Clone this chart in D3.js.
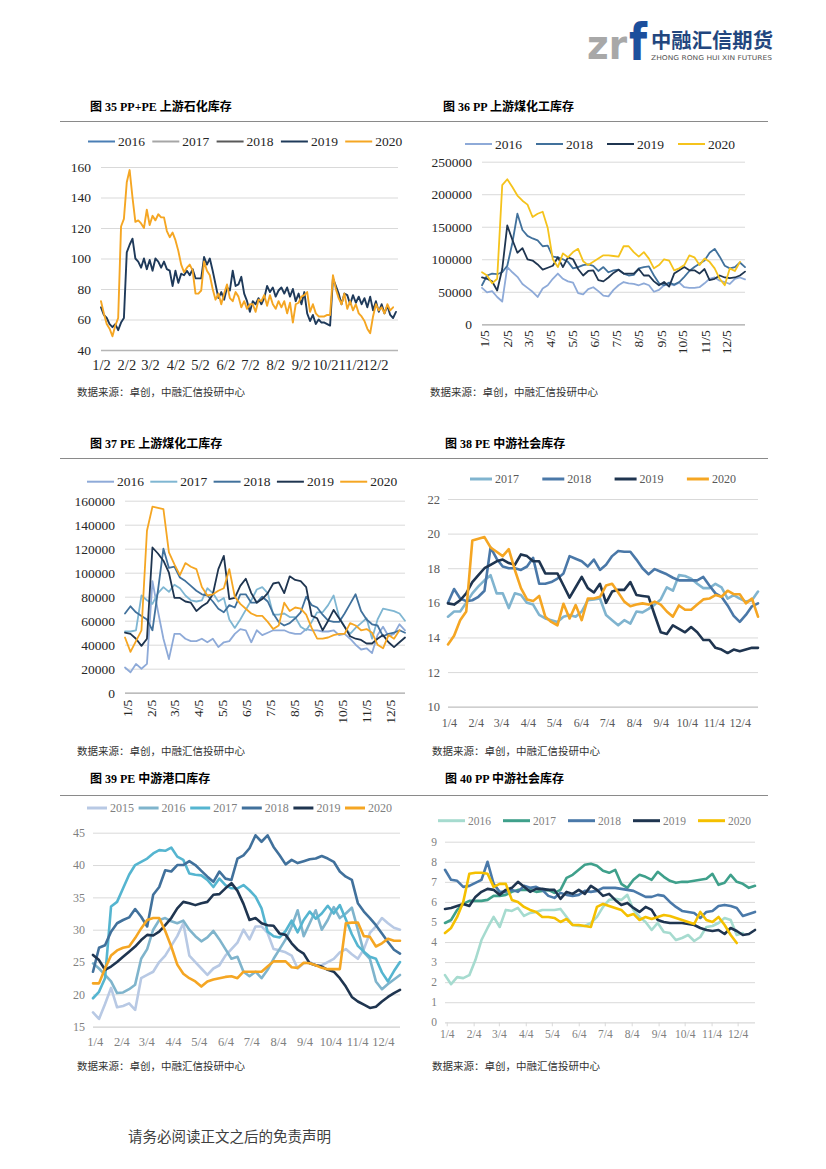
<!DOCTYPE html>
<html><head><meta charset="utf-8">
<script src="https://cdn.jsdelivr.net/npm/d3@7"></script>
<style>body{margin:0;background:#fff}svg{display:block}</style>
</head><body>
<svg id="page" width="826" height="1169"></svg>
<script>
// ---------- data ----------
// fig 35: PP+PE upstream petrochem inventory, half-week samples from 1/2
const c35Years = ["2016", "2017", "2018", "2019", "2020"];
const c35_2019 = [68,63,61,57,55,57,53,58,61,104,109,113,100,98,94,100,93,99,92,100,98,94,98,93,92,82,92,84,90,89,92,89,93,87,87,87,101,96,100,92,83,74,78,73,81,79,92,82,83,88,77,72,65,72,70,74,70,74,82,78,81,75,79,81,77,81,75,80,72,77,70,78,64,59,63,57,60,58,58,57,56,87,82,77,70,77,76,70,76,71,75,70,74,68,75,66,72,65,70,64,69,63,61,65];
const c35_2020 = [72,64,57,54,49,56,61,121,126,150,158,140,124,125,123,120,132,122,128,125,129,127,127,118,114,117,112,105,96,91,94,96,92,77,77,79,98,92,89,80,73,77,70,77,83,74,72,78,75,68,72,67,70,70,65,73,72,76,69,76,70,67,72,68,72,64,71,58,70,71,75,76,78,65,70,64,62,62,62,63,63,89,80,74,70,77,67,72,66,70,64,62,59,54,51,62,70,66,68,64,70,66,68];
const c35Ticks = ["1/2","2/2","3/2","4/2","5/2","6/2","7/2","8/2","9/2","10/2","11/2","12/2"];

// fig 36: PP upstream coal-chemical inventory (tonnes, weekly)
const c36Years = ["2016", "2018", "2019", "2020"];
const c36_2016 = [56,49,51,42,35,88,80,73,62,56,50,42,55,60,70,78,70,66,64,48,46,54,57,51,44,43,53,60,65,63,62,60,63,60,50,53,60,62,60,64,57,56,56,57,63,70,72,67,65,62,70,72,69].map(v => v * 1000);
const c36_2018 = [60,75,78,77,80,90,125,170,145,136,132,129,120,121,104,103,100,96,86,88,91,92,90,82,88,80,83,84,78,75,76,86,88,89,75,63,60,64,61,65,73,82,88,93,98,110,116,104,90,86,88,95,88].map(v => v * 1000);
const c36_2019 = [72,70,66,52,85,152,130,110,117,100,98,92,84,87,90,103,88,103,100,85,75,82,83,68,66,72,79,84,78,78,78,85,75,75,66,60,65,58,78,83,88,83,83,78,85,68,70,75,72,71,72,75,81].map(v => v * 1000);
const c36_2020 = [80,75,63,70,214,223,211,198,190,184,165,170,173,148,100,88,109,103,111,116,97,91,96,101,106,106,105,104,120,120,111,104,111,101,86,91,100,98,83,86,91,106,103,91,101,96,86,70,60,86,82,96].map(v => v * 1000);
const c36Ticks = ["1/5","2/5","3/5","4/5","5/5","6/5","7/5","8/5","9/5","10/5","11/5","12/5"];

// fig 37: PE upstream coal-chemical inventory (tonnes, weekly)
const c37Years = ["2016", "2017", "2018", "2019", "2020"];
const c37_2016 = [21,17,24,20,24,93,68,45,28,49,49,45,43,43,45,42,45,38,42,43,49,53,52,42,52,48,50,52,52,52,50,49,49,53,52,52,51,51,52,48,49,45,40,36,37,33,48,55,47,49,57,52].map(v => v * 1000);
const c37_2017 = [51,51,52,81,77,74,83,88,84,90,87,81,77,76,77,87,83,76,79,61,54,61,69,77,86,88,83,65,65,66,63,63,55,52,59,67,67,73,81,63,55,49,54,58,62,45,61,70,69,68,66,60].map(v => v * 1000);
const c37_2018 = [66,72,67,64,61,52,85,120,104,105,96,93,89,85,82,81,76,70,67,73,71,82,82,75,75,80,76,66,59,56,58,62,67,80,73,71,65,60,59,59,66,74,82,68,61,57,56,47,49,50,52,50].map(v => v * 1000);
const c37_2019 = [50,49,45,39,45,121,116,110,100,79,79,76,75,68,72,75,82,103,114,78,79,89,95,83,75,78,83,91,92,83,97,94,93,88,64,62,52,60,69,62,55,47,45,44,41,41,45,48,42,38,42,46].map(v => v * 1000);
const c37_2020 = [46,34,43,52,135,155,154,153,117,107,98,108,105,103,88,81,82,85,87,103,80,74,70,66,64,64,59,53,56,75,68,71,70,65,54,45,45,46,48,49,49,58,56,52,53,50,40,37,48,45,52].map(v => v * 1000);
const c37Ticks = c36Ticks;

// fig 38: PE midstream social inventory (10k t, weekly)
const c38Years = ["2017", "2018", "2019", "2020"];
const c38_2017 = [15.2,15.5,15.5,16.0,16.55,16.95,17.3,17.6,16.55,16.55,15.7,16.55,16.45,16.0,15.9,15.3,15.1,15.0,14.9,15.2,15.3,15.2,15.5,16.15,16.2,16.25,15.3,15.0,14.7,15.0,14.8,15.5,15.45,15.65,15.9,16.2,16.9,16.7,17.6,17.55,17.4,17.1,16.85,16.85,17.1,16.9,16.25,16.45,16.25,16.07,16.15,16.65];
const c38_2018 = [16.0,16.8,16.25,16.1,16.15,16.35,16.7,19.2,18.55,18.1,18.0,18.0,17.9,18.1,18.6,17.1,17.1,17.2,17.4,17.7,18.7,18.55,18.4,18.1,18.5,17.9,18.2,18.7,19.0,18.95,18.95,18.5,18.0,17.65,17.95,17.8,17.65,17.45,17.3,17.3,17.3,17.3,17.5,17.0,16.55,16.35,15.85,15.25,14.9,15.3,15.8,15.97];
const c38_2019 = [15.97,15.9,16.15,16.55,17.2,17.6,18.0,18.2,18.4,18.5,18.3,18.2,18.8,18.7,18.4,18.4,17.7,17.7,17.7,17.0,16.3,16.9,17.5,16.85,16.6,17.1,16.0,16.65,16.75,16.75,17.2,16.45,16.4,16.35,15.3,14.3,14.2,14.7,14.5,14.3,14.6,14.3,13.85,13.85,13.4,13.3,13.1,13.3,13.2,13.3,13.4,13.4];
const c38_2020 = [13.6,14.1,15.0,15.5,19.6,19.7,19.8,19.2,18.95,18.7,19.1,17.9,16.85,16.2,16.1,16.4,15.2,14.9,14.7,15.95,15.1,15.87,15.0,16.25,16.25,16.35,17.0,17.1,16.6,16.07,15.8,15.9,15.97,15.9,16.07,15.9,15.5,15.2,15.85,15.6,15.6,15.9,16.2,16.25,16.45,16.35,16.7,16.5,16.5,15.97,16.25,15.2];
const c38Ticks = ["1/4","2/4","3/4","4/4","5/4","6/4","7/4","8/4","9/4","10/4","11/4","12/4"];

// fig 39: PE midstream port inventory (10k t, weekly)
const c39Years = ["2015", "2016", "2017", "2018", "2019", "2020"];
const c39_2015 = [17.2,16.2,18.5,21.0,18.0,18.2,18.6,17.6,22.5,23.0,23.5,25.0,26.0,27.5,29.0,31.0,26.0,25.0,24.0,23.0,24.0,24.5,26.0,27.0,28.0,30.0,28.5,30.5,30.5,29.5,27.0,26.8,26.5,26.0,24.0,24.8,25.0,24.5,24.5,25.0,25.5,26.5,27.0,26.2,25.5,27.0,29.5,30.5,31.8,31.0,30.3,30.0];
const c39_2016 = [24.8,24.0,23.0,22.0,20.2,20.3,20.8,21.5,25.5,27.0,30.0,31.5,31.8,31.3,31.0,31.4,30.0,29.0,28.2,28.8,29.8,28.5,27.0,25.5,25.8,23.5,22.8,23.5,22.5,23.8,25.5,27.0,28.5,30.5,33.0,29.0,31.0,33.0,30.0,31.5,33.5,31.8,32.5,33.4,30.0,26.5,25.5,22.0,20.8,21.6,22.3,23.0];
const c39_2017 = [19.4,20.4,22.5,33.6,34.3,36.4,38.5,40.0,40.5,41.0,41.8,42.3,42.2,42.7,41.3,40.8,38.7,38.5,38.4,37.7,36.6,37.9,36.9,36.4,36.4,36.9,36.1,35.1,33.3,29.7,29.0,28.8,29.8,31.4,29.6,31.5,32.8,31.7,32.5,33.7,32.5,33.8,31.6,29.3,27.5,26.6,25.8,25.5,23.4,22.0,23.6,25.0];
const c39_2018 = [23.5,27.2,27.6,29.7,31.0,31.5,31.9,33.2,32.0,30.5,35.4,36.6,39.2,39.0,40.0,40.0,40.6,40.0,39.1,38.2,37.4,39.0,37.9,37.7,41.0,41.5,42.6,44.6,43.6,44.6,42.8,41.5,40.1,40.8,40.3,40.6,40.9,41.0,41.4,41.0,40.5,39.0,38.2,37.7,34.1,32.8,31.8,30.7,29.4,28.1,26.9,26.3];
const c39_2019 = [26.1,25.3,23.8,24.3,25.0,25.8,26.6,27.4,28.4,29.2,29.1,29.7,30.7,31.8,33.3,34.3,34.1,33.8,34.1,34.3,35.4,35.5,36.4,37.2,36.0,34.0,31.5,31.8,31.0,30.7,30.6,29.4,29.2,27.9,26.9,26.3,24.8,24.5,24.3,23.8,23.5,22.5,21.2,19.6,18.9,18.4,17.9,18.1,18.9,19.6,20.2,20.7];
const c39_2020 = [21.7,21.7,24.0,26.0,26.8,27.2,27.4,28.7,30.2,31.5,31.8,31.8,29.8,27.4,24.6,23.2,22.5,22.0,21.2,22.0,22.3,22.5,22.7,22.8,22.5,23.5,23.5,23.5,23.5,24.3,25.1,25.1,25.1,24.2,24.1,24.9,24.8,24.5,24.1,23.9,23.9,23.9,31.0,31.1,31.1,29.0,28.9,27.4,27.9,28.6,28.3,28.3];
const c39Ticks = c38Ticks;

// fig 40: PP midstream social inventory (10k t, weekly)
const c40Years = ["2016", "2017", "2018", "2019", "2020"];
const c40_2016 = [2.35,1.9,2.25,2.2,2.35,3.1,4.1,4.7,5.25,4.75,5.6,5.55,5.7,5.3,5.45,5.5,5.6,5.6,5.6,5.65,5.25,4.85,4.8,4.8,4.95,5.25,5.75,6.1,6.15,6.1,6.35,5.6,5.25,5.0,4.6,4.95,4.5,4.45,4.1,4.2,4.35,4.05,4.25,4.75,4.8,4.95,5.2,5.1,4.35,4.45];
const c40_2017 = [4.95,5.1,5.6,5.9,6.05,6.05,6.05,6.1,6.3,6.3,6.35,6.5,6.6,6.6,6.6,6.5,6.55,6.6,6.45,6.6,7.2,7.35,7.6,7.85,7.9,7.8,7.55,7.45,7.6,6.9,6.7,7.1,7.35,7.25,7.1,7.5,7.25,7.05,6.95,7.0,7.0,7.05,7.1,7.15,7.4,6.85,6.95,7.35,7.0,6.9,6.7,6.8];
const c40_2018 = [7.6,7.1,7.05,6.75,6.8,6.95,7.1,8.0,6.9,6.5,6.5,6.6,6.5,6.8,6.7,6.75,6.6,6.3,6.2,6.45,6.35,6.3,6.35,6.55,6.5,6.55,6.7,6.7,6.7,6.65,6.6,6.55,6.4,6.25,6.25,6.35,6.3,6.0,5.75,5.55,5.5,5.45,5.2,5.5,5.55,5.8,5.85,5.8,5.7,5.3,5.4,5.5];
const c40_2019 = [5.65,5.7,5.8,5.9,5.8,6.25,6.5,6.65,6.6,6.35,6.6,6.7,7.0,6.75,6.5,6.65,6.65,6.6,6.6,6.15,6.5,6.4,6.6,6.4,6.8,6.6,6.3,6.4,6.1,5.85,5.95,5.7,5.5,5.75,5.6,5.1,5.0,4.95,4.95,4.95,4.9,4.85,4.7,4.6,4.55,4.6,4.4,4.7,4.55,4.35,4.4,4.6];
const c40_2020 = [4.45,4.7,5.25,6.0,7.4,7.45,7.45,7.4,6.75,6.9,6.9,6.1,6.0,5.75,5.6,5.5,5.25,5.25,5.2,5.0,5.15,4.85,4.85,4.8,4.75,5.75,5.9,5.8,5.7,5.6,5.3,5.4,5.1,5.25,5.15,5.25,5.35,5.3,5.2,5.1,5.0,4.9,5.5,5.1,5.0,5.25,4.85,4.35,3.95];
const c40Ticks = c38Ticks;

const sourceText = "数据来源：卓创，中融汇信投研中心";

// ---------- drawing ----------
const svg = d3.select("#page");
const serif = "'Liberation Serif','Times New Roman',serif";
const cjk = "'Noto Sans CJK SC','Noto Sans',sans-serif";

// day offset of each monthly label from the first one (leap year 2020)
function monthDays(labels, dayOfMonth) {
    return labels.map((lab, m) => d3.timeDay.count(new Date(2020, 0, dayOfMonth), new Date(2020, m, dayOfMonth)));
}

function drawChart(c) {
    const g = svg.append("g");
    const x = d3.scaleLinear().domain(c.xDomain).range([c.left, c.right]);
    const y = d3.scaleLinear().domain(c.yDomain).range([c.bottom, c.top]);

    // title
    g.append("text")
        .attr("x", c.titleX).attr("y", c.titleY).attr("dy", "0.36em")
        .attr("font-family", serif + "," + cjk)
        .attr("font-weight", "bold").attr("font-size", 12).attr("fill", "#000")
        .text(c.title);

    // y axis with gridlines
    const yTicks = d3.range(c.yDomain[0], c.yDomain[1] + c.yStep / 2, c.yStep);
    const ya = g.append("g").attr("transform", `translate(${c.left},0)`)
        .call(d3.axisLeft(y).tickValues(yTicks).tickSize(-(c.right - c.left))
            .tickPadding(c.yPad).tickFormat(d3.format("d")));
    ya.select(".domain").remove();
    ya.selectAll(".tick line").attr("stroke", "#d9d9d9").attr("stroke-width", 1);
    ya.selectAll(".tick").filter(d => d === c.yDomain[0]).select("line")
        .attr("stroke", c.axisColor).attr("stroke-width", 1.3);
    ya.selectAll(".tick text").attr("font-family", serif).attr("font-size", c.yFont)
        .attr("fill", c.textColor);

    // x axis
    const tickDays = monthDays(c.xTicks, c.dayOfMonth);
    const xa = g.append("g").attr("transform", `translate(0,${c.bottom})`)
        .call(d3.axisBottom(x).tickValues(tickDays).tickSize(c.xTickSize)
            .tickPadding(c.xPad).tickFormat((d, i) => c.xTicks[i]));
    xa.select(".domain").remove();
    xa.selectAll(".tick line").attr("stroke", c.axisColor);
    xa.selectAll(".tick text").attr("font-family", serif).attr("font-size", c.xFont)
        .attr("fill", c.textColor);
    if (c.rotate) {
        xa.selectAll(".tick text")
            .attr("transform", "rotate(-90)")
            .attr("text-anchor", "end")
            .attr("x", -c.xPad).attr("y", 0).attr("dy", "0.35em");
    }

    // series lines
    const line = d3.line()
        .x((d, i) => x(c.start + i * c.step))
        .y(d => y(d));
    c.series.forEach(s => {
        if (!s.values.length) return;
        g.append("path").datum(s.values)
            .attr("d", line)
            .attr("fill", "none")
            .attr("stroke", s.color)
            .attr("stroke-width", c.lineWidth)
            .attr("stroke-linejoin", "round")
            .attr("stroke-linecap", "round");
    });

    // legend
    const lg = g.append("g");
    c.series.forEach((s, i) => {
        const lx = c.legendX + i * c.legendStep;
        lg.append("line")
            .attr("x1", lx).attr("x2", lx + c.legendLen)
            .attr("y1", c.legendY).attr("y2", c.legendY)
            .attr("stroke", s.color).attr("stroke-width", c.legendWidth);
        lg.append("text")
            .attr("x", lx + c.legendLen + 3).attr("y", c.legendY).attr("dy", "0.34em")
            .attr("font-family", serif).attr("font-size", c.legendFont)
            .attr("fill", c.textColor)
            .text(s.name);
    });

    // source note
    g.append("text")
        .attr("x", c.titleX - 13).attr("y", c.sourceY).attr("dy", "0.36em")
        .attr("font-family", cjk).attr("font-size", 10.5).attr("fill", "#333")
        .text(sourceText);
}

function seriesOf(years, arrays, colors) {
    return years.map((yr, i) => ({ name: yr, values: arrays[i], color: colors[i] }));
}

// header logo
const logo = svg.append("g");
logo.append("text").attr("x", 587).attr("y", 59)
    .attr("font-family", "'DejaVu Sans',sans-serif").attr("font-weight", "bold")
    .attr("font-size", 40).attr("fill", "#a8a8a8")
    .attr("textLength", 40).attr("lengthAdjust", "spacingAndGlyphs").text("zr");
logo.append("text").attr("x", 629).attr("y", 60)
    .attr("font-family", "'DejaVu Sans',sans-serif").attr("font-weight", "bold")
    .attr("font-size", 52).attr("fill", "#1c4f9c")
    .attr("textLength", 18).attr("lengthAdjust", "spacingAndGlyphs").text("f");
logo.append("text").attr("x", 651).attr("y", 48)
    .attr("font-family", cjk).attr("font-weight", "bold")
    .attr("font-size", 20.5).attr("fill", "#22467e")
    .attr("textLength", 122).attr("lengthAdjust", "spacingAndGlyphs").text("中融汇信期货");
logo.append("text").attr("x", 651).attr("y", 59.5)
    .attr("font-family", "'DejaVu Sans',sans-serif")
    .attr("font-size", 6.6).attr("fill", "#555")
    .attr("textLength", 121).attr("lengthAdjust", "spacingAndGlyphs").text("ZHONG RONG HUI XIN FUTURES");

// section rules
[121.5, 458.5, 795.5].forEach(yy => {
    svg.append("line").attr("x1", 60).attr("x2", 768).attr("y1", yy).attr("y2", yy)
        .attr("stroke", "#8a8a8a").attr("stroke-width", 1.2);
});

const dark = "#1f3550", orange = "#f5a623";

drawChart({
    title: "图 35 PP+PE 上游石化库存", titleX: 90, titleY: 106.5, sourceY: 392.5,
    left: 101, right: 398, top: 167, bottom: 350,
    xDomain: [0, 363], start: 0, step: 3.5, dayOfMonth: 2, xTicks: c35Ticks,
    yDomain: [40, 160], yStep: 20, yPad: 10, yFont: 13.5, xFont: 14.5, xPad: 10, xTickSize: 0,
    axisColor: "#b5b5b5", textColor: "#262626", lineWidth: 1.9,
    legendX: 88, legendY: 141.5, legendStep: 64.3, legendLen: 27, legendWidth: 2, legendFont: 13.5,
    series: seriesOf(c35Years, [[], [], [], c35_2019, c35_2020],
        ["#4a7eb5", "#a6a6a6", "#595959", "#1f3a5a", orange])
});

drawChart({
    title: "图 36 PP 上游煤化工库存", titleX: 443, titleY: 106.5, sourceY: 392.5,
    left: 482, right: 745, top: 161.7, bottom: 324.3,
    xDomain: [-3, 361], start: -3, step: 7, dayOfMonth: 5, xTicks: c36Ticks, rotate: true,
    yDomain: [0, 250000], yStep: 50000, yPad: 10, yFont: 13.5, xFont: 13.5, xPad: 6, xTickSize: 0,
    axisColor: "#a6a6a6", textColor: "#262626", lineWidth: 1.8,
    legendX: 465, legendY: 144, legendStep: 71, legendLen: 27, legendWidth: 2, legendFont: 13.5,
    series: seriesOf(c36Years, [c36_2016, c36_2018, c36_2019, c36_2020],
        ["#8eaad8", "#41719c", dark, "#f5c31c"])
});

drawChart({
    title: "图 37 PE 上游煤化工库存", titleX: 90, titleY: 443.3, sourceY: 751.7,
    left: 125, right: 405, top: 500.7, bottom: 692.7,
    xDomain: [-2, 355], start: -2, step: 7, dayOfMonth: 5, xTicks: c37Ticks, rotate: true,
    yDomain: [0, 160000], yStep: 20000, yPad: 10, yFont: 13.5, xFont: 13.5, xPad: 7, xTickSize: 0,
    axisColor: "#a6a6a6", textColor: "#262626", lineWidth: 1.8,
    legendX: 87, legendY: 481.7, legendStep: 63.3, legendLen: 27, legendWidth: 2, legendFont: 13.5,
    series: seriesOf(c37Years, [c37_2016, c37_2017, c37_2018, c37_2019, c37_2020],
        ["#8eaad8", "#7fb6d2", "#41719c", dark, orange])
});

drawChart({
    title: "图 38 PE 中游社会库存", titleX: 445, titleY: 443.3, sourceY: 751.7,
    left: 448, right: 758, top: 499, bottom: 706.7,
    xDomain: [-1, 356], start: -1, step: 7, dayOfMonth: 4, xTicks: c38Ticks,
    yDomain: [10, 22], yStep: 2, yPad: 8, yFont: 12.5, xFont: 12, xPad: 12, xTickSize: 0,
    axisColor: "#bfbfbf", textColor: "#595959", lineWidth: 2.6,
    legendX: 470, legendY: 479, legendStep: 72.3, legendLen: 22, legendWidth: 3, legendFont: 12,
    series: seriesOf(c38Years, [c38_2017, c38_2018, c38_2019, c38_2020],
        ["#80b4cf", "#4a78a8", dark, orange])
});

drawChart({
    title: "图 39 PE 中游港口库存", titleX: 90, titleY: 778.3, sourceY: 1066.7,
    left: 93, right: 400, top: 832.7, bottom: 1026.7,
    xDomain: [-2, 355], start: -2, step: 7, dayOfMonth: 4, xTicks: c39Ticks,
    yDomain: [15, 45], yStep: 5, yPad: 8, yFont: 12, xFont: 12.5, xPad: 10, xTickSize: 0,
    axisColor: "#cfcfcf", textColor: "#7f7f7f", lineWidth: 2.6,
    legendX: 87, legendY: 808, legendStep: 51.6, legendLen: 20, legendWidth: 3, legendFont: 12,
    series: seriesOf(c39Years, [c39_2015, c39_2016, c39_2017, c39_2018, c39_2019, c39_2020],
        ["#b8c9e4", "#7fb4cc", "#55b5d0", "#41719c", dark, orange])
});

drawChart({
    title: "图 40 PP 中游社会库存", titleX: 445, titleY: 779, sourceY: 1066.7,
    left: 445, right: 755, top: 841.7, bottom: 1022.3,
    xDomain: [-2, 355], start: -2, step: 7, dayOfMonth: 4, xTicks: c40Ticks,
    yDomain: [0, 9], yStep: 1, yPad: 8, yFont: 11.5, xFont: 11.5, xPad: 4, xTickSize: 4,
    axisColor: "#d9d9d9", textColor: "#7f7f7f", lineWidth: 2.6,
    legendX: 438, legendY: 820.7, legendStep: 65, legendLen: 27, legendWidth: 3, legendFont: 11.5,
    series: seriesOf(c40Years, [c40_2016, c40_2017, c40_2018, c40_2019, c40_2020],
        ["#a6dbcf", "#3fa08b", "#4a79a9", dark, "#f5c000"])
});

// footer
svg.append("text").attr("x", 128).attr("y", 1137).attr("dy", "0.36em")
    .attr("font-family", cjk).attr("font-size", 14.5).attr("fill", "#404040")
    .text("请务必阅读正文之后的免责声明");
</script>
</body></html>
